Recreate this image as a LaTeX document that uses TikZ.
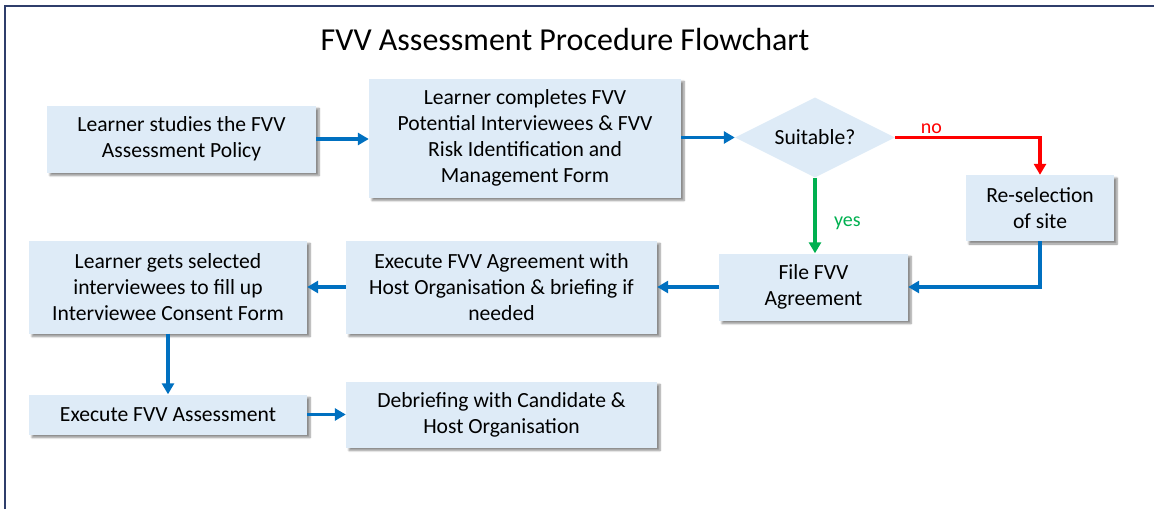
\documentclass[tikz,border=0pt]{standalone}
\usepackage{fontspec}
\setmainfont{Carlito}
\usetikzlibrary{shapes.geometric,shadows.blur,arrows.meta}
\definecolor{boxfill}{RGB}{222,235,247}
\definecolor{flowblue}{RGB}{0,112,192}
\definecolor{flowred}{RGB}{255,0,0}
\definecolor{flowgreen}{RGB}{0,176,80}
\definecolor{framenavy}{RGB}{47,62,107}
\tikzset{
  stepbox/.style={rectangle, fill=boxfill, align=center, inner sep=0pt,
    font=\fontsize{21.6}{26}\selectfont,
    blur shadow={shadow xshift=3pt, shadow yshift=-3pt, shadow blur steps=6, shadow opacity=45}},
  decision/.style={diamond, fill=boxfill, align=center, inner sep=0pt, aspect=2,
    font=\fontsize{21.6}{26}\selectfont},
  flow/.style={draw=flowblue, line width=3.4pt, -{Triangle[length=11pt,width=12pt]}},
  noflow/.style={draw=flowred, line width=3.4pt, -{Triangle[length=11pt,width=12pt]}},
  yesflow/.style={draw=flowgreen, line width=3.4pt, -{Triangle[length=11pt,width=12pt]}},
  tag/.style={font=\fontsize{20}{24}\selectfont},
}
\begin{document}
\begin{tikzpicture}[x=1pt,y=-1pt]
\useasboundingbox (0,0) rectangle (1154,509);
% outer frame
\draw[framenavy, line width=2pt] (5,509) -- (5,6) -- (1154,6);
% title
\node (title) at (565,40) {\fontsize{32}{38}\selectfont FVV Assessment Procedure Flowchart};
% steps
\node[stepbox, minimum width=269pt, minimum height=67pt] (study) at (181.5,139)
  {Learner studies the FVV\\Assessment Policy};
\node[stepbox, minimum width=312pt, minimum height=119pt] (forms) at (525,138)
  {Learner completes FVV\\Potential Interviewees \& FVV\\Risk Identification and\\Management Form};
\node[decision, minimum width=160pt, minimum height=80pt] (suit) at (815,137.5) {Suitable?};
\node[stepbox, minimum width=148pt, minimum height=66pt] (resel) at (1040,208)
  {Re-selection\\of site};
\node[stepbox, minimum width=189pt, minimum height=67pt] (file) at (813.5,287)
  {File FVV\\Agreement};
\node[stepbox, minimum width=311pt, minimum height=93pt] (agree) at (501.5,287)
  {Execute FVV Agreement with\\Host Organisation \& briefing if\\needed};
\node[stepbox, minimum width=278pt, minimum height=93pt] (consent) at (168,287)
  {Learner gets selected\\interviewees to fill up\\Interviewee Consent Form};
\node[stepbox, minimum width=278pt, minimum height=40pt] (exec) at (168,414.5)
  {Execute FVV Assessment};
\node[stepbox, minimum width=311pt, minimum height=66pt] (debrief) at (501.5,414.5)
  {Debriefing with Candidate \&\\Host Organisation};
% connectors
\draw[noflow] (suit.east) -| (resel.north)
  node[pos=0.125, above=-1pt, text=flowred, tag] {no};
\draw[yesflow] (suit.south) -- (suit.south |- file.north)
  node[pos=0.6, right=14pt, text=flowgreen, tag] {yes};
\draw[flow] (study.east) -- (forms.west |- study.east);
\draw[flow] (forms.east |- suit.west) -- (suit.west);
\draw[flow] (resel.south) |- (file.east);
\draw[flow] (file.west) -- (agree.east);
\draw[flow] (agree.west) -- (consent.east);
\draw[flow] (consent.south) -- (exec.north);
\draw[flow] (exec.east) -- (debrief.west);
\end{tikzpicture}
\end{document}
